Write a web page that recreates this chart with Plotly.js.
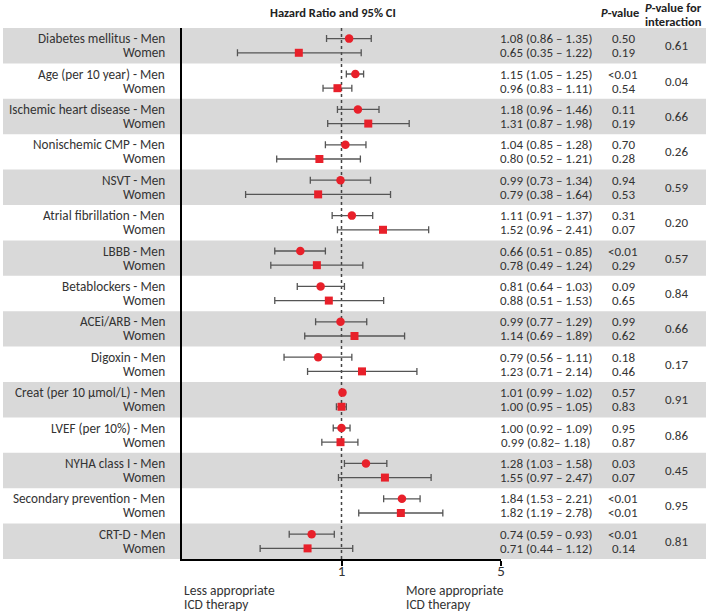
<!DOCTYPE html>
<html><head><meta charset="utf-8">
<script src="https://cdn.plot.ly/plotly-3.0.1.min.js"></script>
<style>html,body{margin:0;padding:0;background:#fff}</style>
</head><body><div id="chart" style="width:709px;height:613px"></div>
<script>
const categories = ["Diabetes mellitus", "Age (per 10 year)", "Ischemic heart disease", "Nonischemic CMP", "NSVT", "Atrial fibrillation", "LBBB", "Betablockers", "ACEi/ARB", "Digoxin", "Creat (per 10 \u03bcmol/L)", "LVEF (per 10%)", "NYHA class I", "Secondary prevention", "CRT-D"];
const menHR = [1.08, 1.15, 1.18, 1.04, 0.99, 1.11, 0.66, 0.81, 0.99, 0.79, 1.01, 1.00, 1.28, 1.84, 0.74];
const menLo = [0.86, 1.05, 0.96, 0.85, 0.73, 0.91, 0.51, 0.64, 0.77, 0.56, 0.99, 0.92, 1.03, 1.53, 0.59];
const menHi = [1.35, 1.25, 1.46, 1.28, 1.34, 1.37, 0.85, 1.03, 1.29, 1.11, 1.02, 1.09, 1.58, 2.21, 0.93];
const menP = ["0.50", "<0.01", "0.11", "0.70", "0.94", "0.31", "<0.01", "0.09", "0.99", "0.18", "0.57", "0.95", "0.03", "<0.01", "<0.01"];
const womenHR = [0.65, 0.96, 1.31, 0.80, 0.79, 1.52, 0.78, 0.88, 1.14, 1.23, 1.00, 0.99, 1.55, 1.82, 0.71];
const womenLo = [0.35, 0.83, 0.87, 0.52, 0.38, 0.96, 0.49, 0.51, 0.69, 0.71, 0.95, 0.82, 0.97, 1.19, 0.44];
const womenHi = [1.22, 1.11, 1.98, 1.21, 1.64, 2.41, 1.24, 1.53, 1.89, 2.14, 1.05, 1.18, 2.47, 2.78, 1.12];
const womenP = ["0.19", "0.54", "0.19", "0.28", "0.53", "0.07", "0.29", "0.65", "0.62", "0.46", "0.83", "0.87", "0.07", "<0.01", "0.14"];
const interactionP = ["0.61", "0.04", "0.66", "0.26", "0.59", "0.20", "0.57", "0.84", "0.66", "0.17", "0.91", "0.86", "0.45", "0.95", "0.81"];
const tickVals = [1, 5];
const tickText = ["1", "5"];

const fmt = v => v.toFixed(2);
const ciText = (hr, lo, hi) => hr.map((v, i) => fmt(v) + " (" + fmt(lo[i]) + (i === 11 && hr === womenHR ? "\u2013 " : " \u2013 ") + fmt(hi[i]) + ")");
const menCI = ciText(menHR, menLo, menHi);
const womenCI = ciText(womenHR, womenLo, womenHi);

const L = 182, R = 501, T = 28, B = 559;
const pw = R - L, ph = B - T;
const px = x => (x - L) / pw;
const py = y => (B - y) / ph;
const OM = -0.2, OW = 0.2;
const idx = categories.map((_, i) => i);
const FONT = "Carlito, Lato, 'Open Sans', sans-serif";
const TXT = "#333333";
const RED = "#e8202a";

const traces = [
  {x: [1, 1], y: [-0.5, 14.5], mode: "lines", line: {color: "#444", width: 1.5, dash: "dot"}, hoverinfo: "skip", showlegend: false},
  {x: menHR, y: idx.map(i => i + OM), mode: "markers", type: "scatter", showlegend: false,
   marker: {symbol: "circle", size: 8.5, color: RED},
   error_x: {type: "data", symmetric: false, array: menHi.map((h, i) => h - menHR[i]), arrayminus: menHR.map((v, i) => v - menLo[i]), color: "#555", thickness: 1.3, width: 3.5}},
  {x: womenHR, y: idx.map(i => i + OW), mode: "markers", type: "scatter", showlegend: false,
   marker: {symbol: "square", size: 8, color: RED},
   error_x: {type: "data", symmetric: false, array: womenHi.map((h, i) => h - womenHR[i]), arrayminus: womenHR.map((v, i) => v - womenLo[i]), color: "#555", thickness: 1.3, width: 3.5}}
];

const shapes = [];
idx.forEach(i => {
  if (i % 2 === 0) shapes.push({type: "rect", xref: "paper", yref: "y", x0: px(3), x1: px(706), y0: i - 0.5, y1: i + 0.5, fillcolor: "#d9d9d9", line: {width: 0}, layer: "below"});
});

const ann = [];
const A = (x, y, text, o) => Object.assign({xref: "paper", yref: "y", x: x, y: y, text: text, showarrow: false, font: {family: FONT, size: 13.2, color: TXT}}, o || {});
const NF = {family: FONT, size: 13, color: TXT};
idx.forEach(i => {
  ann.push(A(px(167), i + OM, categories[i] + " - Men", {xanchor: "right"}));
  ann.push(A(px(167), i + OW, "Women", {xanchor: "right"}));
  ann.push(A(px(545.5), i + OM, menCI[i], {xanchor: "center", font: NF}));
  ann.push(A(px(545.5), i + OW, womenCI[i], {xanchor: "center", font: NF}));
  ann.push(A(px(623), i + OM, menP[i], {xanchor: "center", font: NF}));
  ann.push(A(px(623), i + OW, womenP[i], {xanchor: "center", font: NF}));
  ann.push(A(px(676), i, interactionP[i], {xanchor: "center", font: NF}));
});
const HF = {family: FONT, size: 12.5, color: "#222"};
const P = (x, y, text, o) => Object.assign({xref: "paper", yref: "paper", x: px(x), y: py(y), text: text, showarrow: false, yanchor: "middle", font: HF}, o || {});
const BF = {family: FONT, size: 13.5, color: TXT};
ann.push(P(333, 13, "<b>Hazard Ratio and 95% CI</b>", {xanchor: "center"}));
ann.push(P(620, 13, "<b><i>P</i>-value</b>", {xanchor: "center"}));
ann.push(P(673, 7.5, "<b><i>P</i>-value for</b>", {xanchor: "center"}));
ann.push(P(673, 21, "<b>interaction</b>", {xanchor: "center"}));
ann.push(P(182, 590, "Less appropriate", {xanchor: "left", font: BF}));
ann.push(P(182, 604, "ICD therapy", {xanchor: "left", font: BF}));
ann.push(P(404, 590, "More appropriate", {xanchor: "left", font: BF}));
ann.push(P(404, 604, "ICD therapy", {xanchor: "left", font: BF}));

const layout = {
  width: 709, height: 613,
  margin: {l: L, r: 709 - R, t: T, b: 613 - B, pad: 0},
  paper_bgcolor: "#fff", plot_bgcolor: "rgba(0,0,0,0)",
  showlegend: false,
  font: {family: FONT, color: TXT},
  xaxis: {type: "log", range: [Math.log10(0.2), Math.log10(5)], tickvals: tickVals, ticktext: tickText,
          ticks: "outside", ticklen: 5, tickwidth: 2, tickcolor: "#000", showline: true, linecolor: "#000", linewidth: 2,
          ticklabelstandoff: -8,
          showgrid: false, zeroline: false, tickfont: {family: FONT, size: 15, color: TXT}, fixedrange: true},
  yaxis: {range: [14.5, -0.5], showticklabels: false, showgrid: false, zeroline: false, showline: true,
          linecolor: "#000", linewidth: 2, ticks: "", fixedrange: true},
  shapes: shapes,
  annotations: ann
};
Plotly.newPlot("chart", traces, layout, {displayModeBar: false, staticPlot: true});
</script></body></html>
